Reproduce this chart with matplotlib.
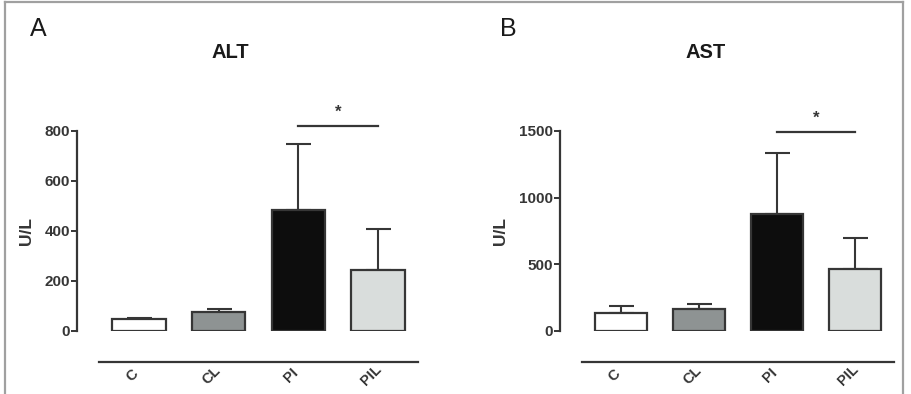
import matplotlib
matplotlib.use("Agg")
import matplotlib.pyplot as plt
from matplotlib.lines import Line2D
import matplotlib.transforms as mtransforms

plt.rcParams['font.family'] = ['Liberation Sans', 'DejaVu Sans']

# data
groups = ['C', 'CL', 'PI', 'PIL']
bar_colors = ['#ffffff', '#8e9393', '#0d0d0d', '#d9dddc']

alt_mean = [47, 75, 484, 244]
alt_err = [6, 12, 263, 166]

ast_mean = [133, 163, 875, 462]
ast_err = [54, 37, 457, 232]

W, H = 912, 394
fig = plt.figure(figsize=(W / 100, H / 100), dpi=100)

# frame around the whole figure
frame_col = '#a0a0a0'
fig.add_artist(Line2D([5 / W, 5 / W], [0, 1 - 1.5 / H], transform=fig.transFigure, color=frame_col, lw=1.6))
fig.add_artist(Line2D([5 / W, 903 / W], [1 - 1.5 / H, 1 - 1.5 / H], transform=fig.transFigure, color=frame_col, lw=1.6))
fig.add_artist(Line2D([903 / W, 903 / W], [0, 1 - 1.5 / H], transform=fig.transFigure, color=frame_col, lw=1.6))

ink = '#363636'


def panel(left_px, right_px, xlim, means, errs, ymax, yticks, sig_y, star_y, ylab_x,
          letter, letter_xy, title, title_xy):
    bottom = (H - 331) / H
    top = (H - 131) / H
    ax = fig.add_axes([left_px / W, bottom, (right_px - left_px) / W, top - bottom])
    x = list(range(len(groups)))
    ax.errorbar(x, means, yerr=[[0] * 4, errs], fmt='none', ecolor=ink,
                elinewidth=1.5, capsize=9, capthick=1.5, zorder=2)
    ax.bar(x, means, width=0.67, color=bar_colors, edgecolor=ink, linewidth=1.6, zorder=3)
    ax.set_xlim(*xlim)
    ax.set_ylim(0, ymax)

    for s in ['top', 'right']:
        ax.spines[s].set_visible(False)
    ax.spines['left'].set_color(ink)
    ax.spines['left'].set_linewidth(1.6)
    ax.spines['bottom'].set_color(ink)
    ax.spines['bottom'].set_linewidth(1.6)
    ax.spines['bottom'].set_position(('outward', 22))
    ax.spines['bottom'].set_bounds(-0.5, 3.5)

    ax.set_yticks(yticks)
    ax.set_yticklabels([str(t) for t in yticks], fontsize=11, fontweight='bold', color=ink)
    ax.tick_params(axis='y', length=4, width=1.4, color=ink, pad=1)

    ax.set_xticks(x)
    ax.set_xticklabels(groups, fontsize=10.5, fontweight='bold', color=ink,
                       rotation=45, ha='center', va='center')
    ax.tick_params(axis='x', length=0, pad=10)
    shift = mtransforms.ScaledTranslation(-5 / 72, 0, fig.dpi_scale_trans)
    for lab in ax.get_xticklabels():
        lab.set_transform(lab.get_transform() + shift)

    ax.set_ylabel('U/L', fontsize=12.5, fontweight='bold', color=ink)
    ax.yaxis.set_label_coords(ylab_x, 0.5)

    # significance bar between PI and PIL
    ax.plot([2, 3], [sig_y, sig_y], color=ink, lw=1.6, clip_on=False)
    ax.text(2.5, star_y, '*', ha='center', va='center', fontsize=12,
            fontweight='bold', color=ink, clip_on=False)

    fig.text(letter_xy[0] / W, 1 - letter_xy[1] / H, letter, fontsize=18,
             ha='center', va='center', color='#1a1a1a')
    fig.text(title_xy[0] / W, 1 - title_xy[1] / H, title, fontsize=14.5,
             fontweight='bold', ha='center', va='center', color='#1a1a1a')
    return ax


panel(77, 420, (-0.775, 3.525), alt_mean, alt_err, 800, [0, 200, 400, 600, 800],
      820, 876, -0.125, 'A', (38, 29), 'ALT', (230, 53))
panel(560, 898, (-0.78, 3.55), ast_mean, ast_err, 1500, [0, 500, 1000, 1500],
      1492, 1597, -0.154, 'B', (508, 29), 'AST', (706, 53))

fig.savefig('out.png', dpi=100)
